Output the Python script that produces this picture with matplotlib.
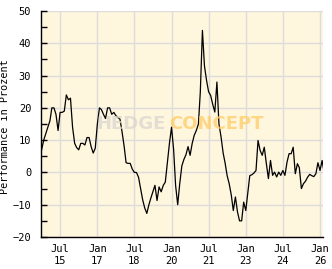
import numpy as np
import pandas as pd
import matplotlib
matplotlib.use('Agg')
import matplotlib.pyplot as plt

# monthly performance values (%) starting Oct 2014
perf = [7, 10, 12, 14, 16, 20, 20, 18, 13, 18.6,
        18.6, 19, 24, 22.5, 23, 14, 9, 7.7, 7, 9,
        9, 8.5, 10.8, 10.8, 8, 6, 7.5, 15, 20, 19.5,
        18, 16.7, 20, 20, 18, 18.6, 17.6, 17, 16.5, 12.5,
        8, 3, 2.8, 2.8, 1, 0, 0, -1.5, -5, -8.5,
        -11, -12.7, -10, -8, -6, -4, -8.7, -4.5, -6, -4,
        -3, 3, 9, 14, 7, -4, -10, -3.5, 2, 4,
        5.5, 8, 5.3, 9, 11.5, 13, 15, 25, 44, 33,
        28.5, 25, 23.8, 21, 18.7, 28, 15, 11, 6, 3,
        -1, -3.5, -7, -11.8, -7.6, -12.3, -15, -15, -9.2, -11.8,
        -6, -1, -0.7, -0.2, 0.6, 9.9, 6.8, 5.3, 7.8, 2.7,
        -1.9, 3.7, -0.9, 0.1, -1.4, 0.1, -0.9, 0.6, -0.9, 3.2,
        5.8, 5.8, 7.8, -0.4, 2.7, 1.5, -5, -3.5, -2.7, -1.5,
        -0.6, -1, -1.3, -0.4, 3, 0.6, 3.7, 0.1]
dates = pd.date_range('2014-10-01', periods=len(perf), freq='MS')

tick_dates = ['2015-07-01', '2017-01-01', '2018-07-01', '2020-01-01',
              '2021-07-01', '2023-01-01', '2024-07-01', '2026-01-01']
tick_labels = ['Jul\n15', 'Jan\n17', 'Jul\n18', 'Jan\n20',
               'Jul\n21', 'Jan\n23', 'Jul\n24', 'Jan\n26']

plt.rcParams['font.family'] = ['DejaVu Sans Mono']

fig = plt.figure(figsize=(3.32, 2.69), dpi=100)
ax = fig.add_axes([41/332, 1 - 237/269, 282/332, 226/269])
ax.set_facecolor('#FFF6DE')

ax.plot(dates, perf, color='black', lw=0.9, zorder=3)

# watermark (sits on top, semi transparent)
ax.text(0.443, 0.502, 'HEDGE', transform=ax.transAxes, ha='right', va='center',
        fontsize=13, fontweight='bold', color='#D9D6D0', alpha=0.75,
        family=['DejaVu Sans'], zorder=4)
ax.text(0.454, 0.502, 'CONCEPT', transform=ax.transAxes, ha='left', va='center',
        fontsize=13, fontweight='bold', color='#FFCC66', alpha=0.75,
        family=['DejaVu Sans'], zorder=4)

ax.set_xlim(pd.Timestamp('2014-09-22'), pd.Timestamp('2026-02-14'))
ax.set_ylim(-20, 50)
ax.set_xticks(pd.to_datetime(tick_dates))
ax.set_xticklabels(tick_labels, linespacing=1.3)
ax.set_yticks(np.arange(-20, 51, 10))
ax.set_yticks(np.arange(-15, 50, 10), minor=True)

ax.grid(True, color='#DCDCDC', lw=1)
ax.set_axisbelow(True)
ax.tick_params(axis='y', which='both', direction='in', length=4, width=1,
               labelsize=7.5, pad=7)
ax.tick_params(axis='x', length=0, labelsize=7.5, pad=5)

for s in ['top', 'right']:
    ax.spines[s].set_visible(False)
for s in ['left', 'bottom']:
    ax.spines[s].set_linewidth(1)

ax.set_ylabel('Performance in Prozent', fontsize=7.3)
ax.yaxis.set_label_coords(-0.11, 0.49)

fig.savefig('out.png', dpi=100)
